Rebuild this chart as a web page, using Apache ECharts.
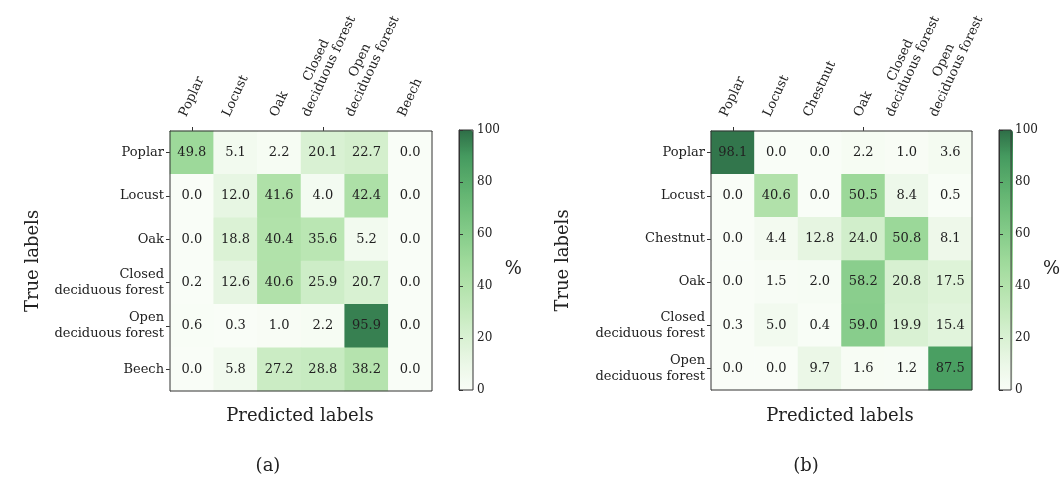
<!DOCTYPE html>
<html><head><meta charset="utf-8">
<script src="https://cdn.jsdelivr.net/npm/echarts@6/dist/echarts.min.js"></script>
<style>html,body{margin:0;padding:0;background:#fff}#c{width:1062px;height:483px}</style>
</head><body><div id="c"></div>
<script>
// ---- data ----
const classesA = ['Poplar', 'Locust', 'Oak', 'Closed\ndeciduous forest', 'Open\ndeciduous forest', 'Beech'];
const valuesA = [
  [49.8, 5.1, 2.2, 20.1, 22.7, 0.0],
  [0.0, 12.0, 41.6, 4.0, 42.4, 0.0],
  [0.0, 18.8, 40.4, 35.6, 5.2, 0.0],
  [0.2, 12.6, 40.6, 25.9, 20.7, 0.0],
  [0.6, 0.3, 1.0, 2.2, 95.9, 0.0],
  [0.0, 5.8, 27.2, 28.8, 38.2, 0.0]
];
const classesB = ['Poplar', 'Locust', 'Chestnut', 'Oak', 'Closed\ndeciduous forest', 'Open\ndeciduous forest'];
const valuesB = [
  [98.1, 0.0, 0.0, 2.2, 1.0, 3.6],
  [0.0, 40.6, 0.0, 50.5, 8.4, 0.5],
  [0.0, 4.4, 12.8, 24.0, 50.8, 8.1],
  [0.0, 1.5, 2.0, 58.2, 20.8, 17.5],
  [0.3, 5.0, 0.4, 59.0, 19.9, 15.4],
  [0.0, 0.0, 9.7, 1.6, 1.2, 87.5]
];
const colorbarMin = 0, colorbarMax = 100, colorbarStep = 20;
const panelCaptions = ['(a)', '(b)'];
const xTitle = 'Predicted labels';
const yTitle = 'True labels';
const unitLabel = '%';

// ---- styling ----
const FONT = 'DejaVu Serif';
const INK = '#222';
const greens = ['#f9fdf7', '#ebf7e7', '#d9f1d3', '#c5eabe', '#b2e2ab', '#9dd99a',
                '#86cc8a', '#6fbe7a', '#5aad6c', '#459a5f', '#2e6e47'];
const XLAB_SIZE = 13, XLAB_LH = 14, XLAB_ANGLE = 65, XLAB_GAP = 12;

const panels = [
  {cls: classesA, vals: valuesA, grid: {left: 170, top: 131, width: 262, height: 260},
   cbar: {left: 459, top: 130, width: 14, height: 260}, yGap: 128,
   xTitleX: 300, capX: 268},
  {cls: classesB, vals: valuesB, grid: {left: 711, top: 131, width: 261, height: 259},
   cbar: {left: 999, top: 130, width: 14, height: 260}, yGap: 139,
   xTitleX: 840, capX: 806}
];

const grid = [], xAxis = [], yAxis = [], series = [], visualMap = [], graphic = [];
panels.forEach((p, i) => {
  const gi = grid.length;
  grid.push(Object.assign({show: true, borderColor: '#333', borderWidth: 1, z: 3}, p.grid));
  xAxis.push({
    type: 'category', gridIndex: gi, position: 'top', data: p.cls,
    axisLine: {show: true, lineStyle: {color: '#333'}},
    axisTick: {show: true, alignWithLabel: true, length: 4, lineStyle: {color: '#333'}},
    axisLabel: {show: false},
    splitLine: {show: false}
  });
  yAxis.push({
    type: 'category', gridIndex: gi, inverse: true, data: p.cls,
    name: yTitle, nameLocation: 'middle', nameRotate: 90, nameGap: p.yGap,
    nameTextStyle: {fontFamily: FONT, fontSize: 18, color: INK},
    axisLine: {show: true, lineStyle: {color: '#333'}},
    axisTick: {show: true, alignWithLabel: true, length: 4, lineStyle: {color: '#333'}},
    axisLabel: {margin: 6, fontFamily: FONT, fontSize: 13, color: INK, lineHeight: 16},
    splitLine: {show: false}
  });
  const data = [];
  p.vals.forEach((row, r) => row.forEach((v, c) => data.push([c, r, v])));
  series.push({
    type: 'heatmap', xAxisIndex: gi, yAxisIndex: gi, data: data,
    label: {show: true, fontFamily: FONT, fontSize: 13, color: INK,
      formatter: q => q.value[2].toFixed(1)},
    itemStyle: {borderWidth: 0},
    emphasis: {disabled: true}
  });
  visualMap.push({
    type: 'continuous', seriesIndex: i, min: colorbarMin, max: colorbarMax,
    calculable: false, realtime: false, hoverLink: false, padding: 0,
    left: p.cbar.left, top: p.cbar.top, itemWidth: p.cbar.width, itemHeight: p.cbar.height,
    text: null, showLabel: false,
    inRange: {color: greens}
  });
  // colorbar axis
  const ci = grid.length;
  grid.push(Object.assign({show: true, borderColor: '#333', borderWidth: 1, backgroundColor: 'transparent', z: 10}, p.cbar));
  xAxis.push({type: 'value', gridIndex: ci, show: false, min: 0, max: 1});
  yAxis.push({
    type: 'value', gridIndex: ci, position: 'right', min: colorbarMin, max: colorbarMax, interval: colorbarStep,
    name: unitLabel, nameLocation: 'middle', nameRotate: 0, nameGap: 30,
    nameTextStyle: {fontFamily: FONT, fontSize: 18, color: INK, verticalAlign: 'top'},
    axisLine: {show: true, lineStyle: {color: '#333'}},
    axisTick: {show: true, length: 4, lineStyle: {color: '#333'}},
    axisLabel: {margin: 4, fontFamily: FONT, fontSize: 12, color: INK},
    splitLine: {show: false}, z: 10
  });
  graphic.push({type: 'text', x: p.xTitleX, y: 416, style: {text: xTitle, font: '18px "' + FONT + '"', fill: INK, textAlign: 'center', textVerticalAlign: 'middle'}});
  graphic.push({type: 'text', x: p.capX, y: 466, style: {text: panelCaptions[i], font: '18px "' + FONT + '"', fill: INK, textAlign: 'center', textVerticalAlign: 'middle'}});
});

const chart = echarts.init(document.getElementById('c'), null, {renderer: 'canvas'});
chart.setOption({
  backgroundColor: '#fff', animation: false,
  grid, xAxis, yAxis, series, visualMap, graphic
});

// rotated top tick labels, centred on each category tick (matplotlib-like)
const mctx = document.createElement('canvas').getContext('2d');
const xfont = XLAB_SIZE + 'px "' + FONT + '"';
mctx.font = xfont;
const ang = XLAB_ANGLE * Math.PI / 180;
const labelEls = [];
panels.forEach((p, i) => {
  const gi = 2 * i;
  p.cls.forEach((name, k) => {
    const pt = chart.convertToPixel({xAxisIndex: gi, yAxisIndex: gi}, [k, 0]);
    const lines = name.split('\n');
    const w = Math.max.apply(null, lines.map(l => mctx.measureText(l).width));
    const H = lines.length * XLAB_LH;
    const halfH = (w / 2) * Math.sin(ang) + (H / 2) * Math.cos(ang);
    labelEls.push({
      type: 'text', x: pt[0], y: p.grid.top - XLAB_GAP - halfH, rotation: ang,
      style: {text: name, font: xfont, fill: INK, textAlign: 'center', textVerticalAlign: 'middle', lineHeight: XLAB_LH}
    });
  });
});
chart.setOption({graphic: graphic.concat(labelEls)});
</script>
</body></html>
